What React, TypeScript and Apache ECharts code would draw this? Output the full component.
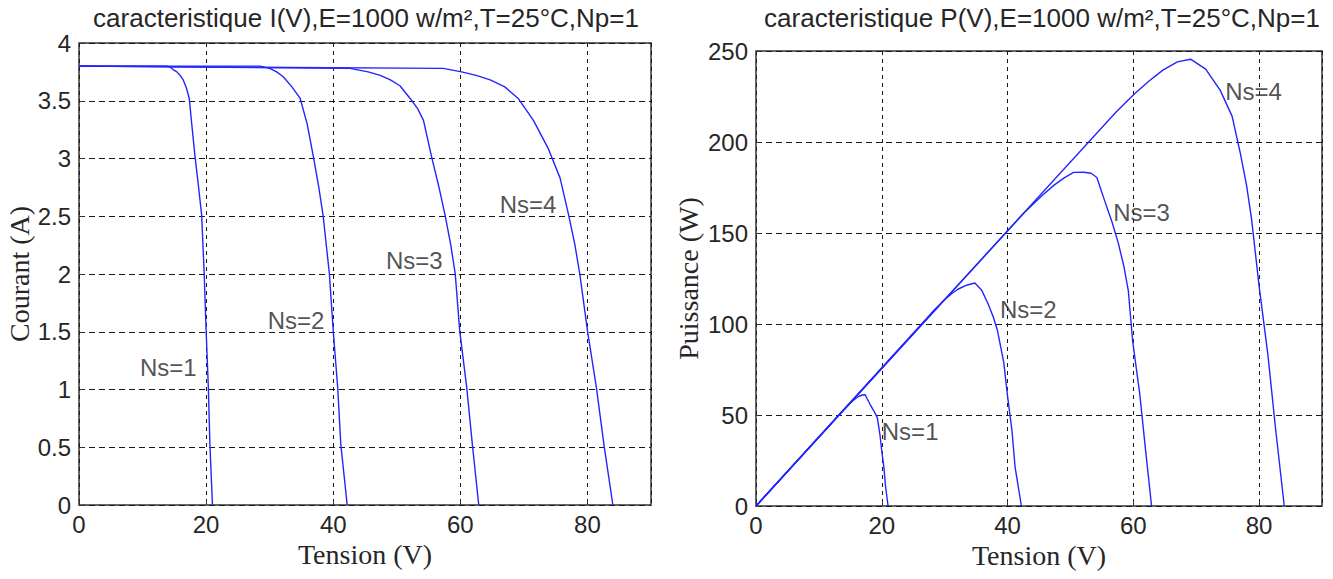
import React, { useEffect, useRef } from "react";
import * as echarts from "echarts";

// I(V) curves: [tension V, courant A]
const ivNs1 = [[0, 3.8], [13.8, 3.8], [14.4, 3.79], [14.8, 3.77], [15.4, 3.75], [15.9, 3.72], [16.4, 3.68], [16.9, 3.61], [17.35, 3.52], [17.7, 3.32], [18.25, 3.02], [18.8, 2.76], [19.3, 2.51], [19.7, 2.0], [20.0, 1.51], [20.35, 1.02], [20.6, 0.52], [21.0, 0]];
const ivNs2 = [[0, 3.8], [28.5, 3.8], [30.0, 3.78], [31.1, 3.75], [32.1, 3.71], [33.5, 3.62], [34.8, 3.52], [35.9, 3.3], [36.9, 3.01], [37.7, 2.76], [38.4, 2.51], [39.4, 2.0], [40.0, 1.51], [40.7, 1.02], [41.2, 0.52], [42.2, 0]];
const ivNs3 = [[0, 3.8], [42.6, 3.78], [45.5, 3.75], [47.4, 3.72], [49.0, 3.68], [50.5, 3.63], [52.1, 3.52], [53.3, 3.43], [54.2, 3.33], [55.5, 3.01], [56.6, 2.76], [57.6, 2.51], [58.5, 2.25], [59.2, 2.0], [59.9, 1.51], [61.0, 1.02], [61.9, 0.52], [62.9, 0]];
const ivNs4 = [[0, 3.8], [57.3, 3.78], [60.2, 3.75], [62.5, 3.72], [64.7, 3.68], [67.0, 3.62], [69.1, 3.52], [71.5, 3.33], [73.8, 3.09], [75.7, 2.83], [77.0, 2.52], [78.0, 2.26], [78.8, 2.0], [80.0, 1.51], [81.4, 1.02], [82.6, 0.52], [84.0, 0]];

// P(V) curves: [tension V, puissance W]
const pvNs1 = [[0, 0], [13.8, 52.4], [14.8, 55.8], [15.4, 57.8], [15.9, 59.2], [16.4, 60.3], [16.9, 61.0], [17.35, 61.1], [17.7, 58.8], [18.25, 55.1], [18.8, 51.9], [19.3, 48.4], [19.7, 39.4], [20.0, 30.2], [20.35, 20.8], [20.6, 10.7], [21.0, 0]];
const pvNs2 = [[0, 0], [28.5, 108.3], [30.0, 113.4], [31.1, 116.6], [32.1, 119.1], [33.5, 121.3], [34.8, 122.5], [35.9, 118.5], [36.9, 111.1], [37.7, 104.1], [38.4, 96.4], [39.4, 78.8], [40.0, 60.4], [40.7, 41.5], [41.2, 21.4], [42.2, 0]];
const pvNs3 = [[0, 0], [42.6, 161.0], [45.5, 170.6], [47.4, 176.3], [49.0, 180.3], [50.5, 183.3], [52.1, 183.4], [53.3, 182.8], [54.2, 180.5], [55.5, 167.1], [56.6, 156.2], [57.6, 144.6], [58.5, 131.6], [59.2, 118.4], [59.9, 90.4], [61.0, 62.2], [61.9, 32.2], [62.9, 0]];
const pvNs4 = [[0, 0], [57.3, 216.6], [60.2, 226.5], [62.5, 233.5], [64.7, 239.5], [67.0, 244.0], [69.1, 245.5], [71.5, 240.0], [73.8, 228.5], [75.7, 214.2], [77.0, 194.0], [78.0, 176.3], [78.8, 157.6], [80.0, 120.8], [81.4, 83.0], [82.6, 43.0], [84.0, 0]];

// Curve annotations: [x, y, text]
const ivLabels = [[9.6, 1.19, "Ns=1"], [29.7, 1.6, "Ns=2"], [48.3, 2.12, "Ns=3"], [66.2, 2.6, "Ns=4"]];
const pvLabels = [[74.6, 227.5, "Ns=4"], [56.8, 161, "Ns=3"], [38.8, 107.7, "Ns=2"], [20.0, 40.7, "Ns=1"]];

const titleLeft = "caracteristique I(V),E=1000 w/m²,T=25°C,Np=1";
const titleRight = "caracteristique P(V),E=1000 w/m²,T=25°C,Np=1";
const xName = "Tension (V)";
const yNameLeft = "Courant (A)";
const yNameRight = "Puissance (W)";

const SANS = "Liberation Sans";
const SERIF = "Liberation Serif";
const TXT = "#262626";
const BLUE = "#2424ff";

export default function App() {
  const ref = useRef<HTMLDivElement>(null);
  useEffect(() => {
    const chart = echarts.init(ref.current!, null, { renderer: "svg" });
    const line = (data: number[][], i: number) => ({
      type: "line",
      xAxisIndex: i,
      yAxisIndex: i,
      data,
      showSymbol: false,
      smooth: false,
      silent: true,
      lineStyle: { color: BLUE, width: 1.4 },
    });
    const labels = (data: any[], i: number) => ({
      type: "scatter",
      xAxisIndex: i,
      yAxisIndex: i,
      data,
      symbolSize: 0,
      silent: true,
      label: {
        show: true,
        position: "right",
        distance: 0,
        formatter: (p: any) => p.value[2],
        color: TXT,
        fontFamily: SANS,
        fontSize: 24,
      },
    });
    const xAxis = (i: number) => ({
      type: "value",
      gridIndex: i,
      min: 0,
      max: 90,
      interval: 20,
      axisLine: { show: false },
      axisTick: { show: true, inside: true, length: 5, lineStyle: { color: "#333" } },
      axisLabel: { color: TXT, fontFamily: SANS, fontSize: 24, margin: 7, showMaxLabel: false },
      splitLine: { show: true, lineStyle: { type: [4, 4], color: "#1a1a1a", width: 1 } },
      name: xName,
      nameLocation: "middle",
      nameGap: 33,
      nameTextStyle: { color: TXT, fontFamily: SERIF, fontSize: 28 },
    });
    const yAxis = (i: number, max: number, interval: number, name: string, gap: number) => ({
      type: "value",
      gridIndex: i,
      min: 0,
      max,
      interval,
      axisLine: { show: false },
      axisTick: { show: true, inside: true, length: 5, lineStyle: { color: "#333" } },
      axisLabel: { color: TXT, fontFamily: SANS, fontSize: 24, margin: 8 },
      splitLine: { show: true, lineStyle: { type: [6, 4], color: "#1a1a1a", width: 1 } },
      name,
      nameLocation: "middle",
      nameGap: gap,
      nameTextStyle: { color: TXT, fontFamily: SERIF, fontSize: 28 },
    });
    chart.setOption({
      animation: false,
      backgroundColor: "#fff",
      grid: [
        { left: 79, top: 43, width: 572, height: 462, show: true, borderColor: "#333", borderWidth: 1.5, backgroundColor: "#fff" },
        { left: 756, top: 51, width: 566, height: 455, show: true, borderColor: "#333", borderWidth: 1.5, backgroundColor: "#fff" },
      ],
      xAxis: [xAxis(0), xAxis(1)],
      yAxis: [yAxis(0, 4, 0.5, yNameLeft, 45), yAxis(1, 250, 50, yNameRight, 54)],
      graphic: [
        { type: "text", x: 366, y: 18, style: { text: titleLeft, fill: TXT, fontFamily: SANS, fontSize: 26, align: "center", verticalAlign: "middle" } },
        { type: "text", x: 1042, y: 18, style: { text: titleRight, fill: TXT, fontFamily: SANS, fontSize: 26, align: "center", verticalAlign: "middle" } },
      ],
      series: [
        line(ivNs1, 0), line(ivNs2, 0), line(ivNs3, 0), line(ivNs4, 0),
        line(pvNs1, 1), line(pvNs2, 1), line(pvNs3, 1), line(pvNs4, 1),
        labels(ivLabels, 0), labels(pvLabels, 1),
      ],
    });
    return () => chart.dispose();
  }, []);
  return <div ref={ref} style={{ position: "fixed", left: 0, top: 0, width: 1333, height: 579, background: "#fff" }} />;
}
